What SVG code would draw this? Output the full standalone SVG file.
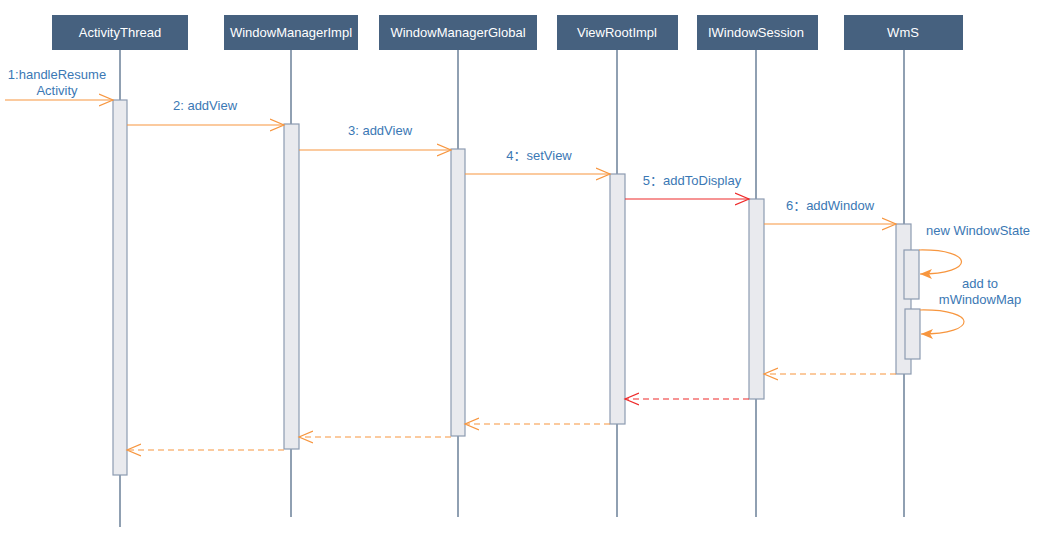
<svg xmlns="http://www.w3.org/2000/svg" width="1050" height="545" viewBox="0 0 1050 545">
<style>
.hdr{fill:#46617f}
.hdrt{fill:#ffffff;font-family:"Liberation Sans",Arial,sans-serif;font-size:13px;text-anchor:middle}
.life{stroke:#46617f;stroke-width:1.2;fill:none}
.act{fill:#e9eaee;stroke:#8d9bb1;stroke-width:1.2}
.lbl{fill:#3b78b4;font-family:"Liberation Sans","Noto Sans CJK SC",Arial,sans-serif;font-size:13px;text-anchor:middle}
.msg{stroke:#f7963f;stroke-width:1.2;fill:none}
.msgr{stroke:#ee2a2a;stroke-width:1.2;fill:none}
.ret{stroke:#f7963f;stroke-width:1.2;fill:none;stroke-dasharray:6,4}
.retr{stroke:#ee2a2a;stroke-width:1.2;fill:none;stroke-dasharray:6,4}
</style>
<defs>
<marker id="open" markerUnits="userSpaceOnUse" markerWidth="16" markerHeight="16" refX="14" refY="7" orient="auto" viewBox="0 0 16 14">
<path d="M0,1 L14,7 L0,13" fill="none" stroke="#f7963f" stroke-width="1.2"/>
</marker>
<marker id="openr" markerUnits="userSpaceOnUse" markerWidth="16" markerHeight="16" refX="14" refY="7" orient="auto" viewBox="0 0 16 14">
<path d="M0,1 L14,7 L0,13" fill="none" stroke="#ee2a2a" stroke-width="1.2"/>
</marker>
<marker id="fill" markerUnits="userSpaceOnUse" markerWidth="14" markerHeight="12" refX="12" refY="5" orient="auto" viewBox="0 0 14 10">
<path d="M0,0 L12,5 L0,10 L3,5 Z" fill="#f7963f"/>
</marker>
</defs>

<g id="lifelines">
<line class="life" x1="120" y1="50" x2="120" y2="527"/>
<line class="life" x1="291" y1="50" x2="291" y2="517"/>
<line class="life" x1="458" y1="50" x2="458" y2="517"/>
<line class="life" x1="617" y1="50" x2="617" y2="517"/>
<line class="life" x1="756" y1="50" x2="756" y2="517"/>
<line class="life" x1="904" y1="50" x2="904" y2="517"/>
</g>

<g id="ActivityThread">
<rect class="hdr" x="52" y="15" width="136" height="35"/>
<text class="hdrt" x="120" y="37">ActivityThread</text>
<rect class="act" x="113" y="100" width="14" height="375"/>
</g>
<g id="WindowManagerImpl">
<rect class="hdr" x="224" y="15" width="134" height="35"/>
<text class="hdrt" x="291" y="37">WindowManagerImpl</text>
<rect class="act" x="284" y="124" width="15" height="325"/>
</g>
<g id="WindowManagerGlobal">
<rect class="hdr" x="379" y="15" width="158" height="35"/>
<text class="hdrt" x="458" y="37">WindowManagerGlobal</text>
<rect class="act" x="451" y="149" width="14" height="287"/>
</g>
<g id="ViewRootImpl">
<rect class="hdr" x="557" y="15" width="121" height="35"/>
<text class="hdrt" x="617" y="37">ViewRootImpl</text>
<rect class="act" x="610" y="174" width="15" height="250"/>
</g>
<g id="IWindowSession">
<rect class="hdr" x="697" y="15" width="121" height="35"/>
<text class="hdrt" x="756" y="37">IWindowSession</text>
<rect class="act" x="749" y="199" width="15" height="200"/>
</g>
<g id="WmS">
<rect class="hdr" x="844" y="15" width="119" height="35"/>
<text class="hdrt" x="903" y="37">WmS</text>
<rect class="act" x="896" y="224" width="15" height="150"/>
<rect class="act" x="904" y="250" width="15" height="49"/>
<rect class="act" x="905" y="309" width="15" height="50"/>
</g>

<g id="connectors">
<line class="msg" x1="5" y1="100" x2="113" y2="100" marker-end="url(#open)"/>
<line class="msg" x1="127" y1="125" x2="284" y2="125" marker-end="url(#open)"/>
<line class="msg" x1="299" y1="150" x2="451" y2="150" marker-end="url(#open)"/>
<line class="msg" x1="465" y1="174" x2="610" y2="174" marker-end="url(#open)"/>
<line class="msgr" x1="625" y1="199" x2="749" y2="199" marker-end="url(#openr)"/>
<line class="msg" x1="764" y1="224" x2="896" y2="224" marker-end="url(#open)"/>
<path class="msg" d="M919,250 C975,249 976,274 920,274" marker-end="url(#fill)"/>
<path class="msg" d="M920,310 C978,309 979,334 921,334" marker-end="url(#fill)"/>
<line class="ret" x1="896" y1="374" x2="764" y2="374" marker-end="url(#open)"/>
<line class="retr" x1="749" y1="399" x2="625" y2="399" marker-end="url(#openr)"/>
<line class="ret" x1="610" y1="424" x2="465" y2="424" marker-end="url(#open)"/>
<line class="ret" x1="451" y1="437" x2="299" y2="437" marker-end="url(#open)"/>
<line class="ret" x1="284" y1="450" x2="127" y2="450" marker-end="url(#open)"/>
</g>

<g id="labels">
<text class="lbl" x="57" y="79">1:handleResume</text>
<text class="lbl" x="57" y="95">Activity</text>
<text class="lbl" x="205" y="110">2: addView</text>
<text class="lbl" x="380" y="135">3: addView</text>
<text class="lbl" x="539" y="160">4：setView</text>
<text class="lbl" x="692" y="185">5：addToDisplay</text>
<text class="lbl" x="830" y="210">6：addWindow</text>
<text class="lbl" x="978" y="235">new WindowState</text>
<text class="lbl" x="980" y="288">add to</text>
<text class="lbl" x="980" y="304">mWindowMap</text>
</g>
</svg>
